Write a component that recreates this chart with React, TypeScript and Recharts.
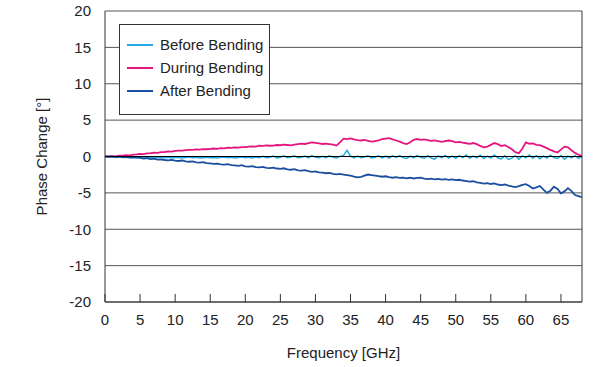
import { CartesianGrid, Legend, Line, LineChart, ReferenceLine, XAxis, YAxis } from "recharts";

const freqGHz = [
  0, 0.5, 1, 1.5, 2, 2.5, 3, 3.5, 4, 4.5, 5, 5.5, 6, 6.5, 7, 7.5, 8, 8.5, 9, 9.5,
  10, 10.5, 11, 11.5, 12, 12.5, 13, 13.5, 14, 14.5, 15, 15.5, 16, 16.5, 17, 17.5, 18, 18.5, 19, 19.5,
  20, 20.5, 21, 21.5, 22, 22.5, 23, 23.5, 24, 24.5, 25, 25.5, 26, 26.5, 27, 27.5, 28, 28.5, 29, 29.5,
  30, 30.5, 31, 31.5, 32, 32.5, 33, 33.5, 34, 34.5, 35, 35.5, 36, 36.5, 37, 37.5, 38, 38.5, 39, 39.5,
  40, 40.5, 41, 41.5, 42, 42.5, 43, 43.5, 44, 44.5, 45, 45.5, 46, 46.5, 47, 47.5, 48, 48.5, 49, 49.5,
  50, 50.5, 51, 51.5, 52, 52.5, 53, 53.5, 54, 54.5, 55, 55.5, 56, 56.5, 57, 57.5, 58, 58.5, 59, 59.5,
  60, 60.5, 61, 61.5, 62, 62.5, 63, 63.5, 64, 64.5, 65, 65.5, 66, 66.5, 67, 67.5, 68,
];

const beforeBending = [
  0.0, -0.08, -0.02, -0.12, -0.06, -0.15, -0.1, -0.18, -0.12, -0.2, -0.14, -0.1, -0.18, -0.12, -0.2, -0.15, -0.1, -0.18, -0.12, -0.22,
  -0.15, -0.1, -0.2, -0.14, -0.08, -0.18, -0.12, -0.22, -0.16, -0.1, -0.18, -0.14, -0.22, -0.12, -0.06, -0.16, -0.1, -0.2, -0.14, -0.08,
  -0.18, -0.12, -0.22, -0.08, -0.16, 0.02, -0.18, -0.1, 0.05, -0.2, -0.12, 0.08, -0.16, -0.06, 0.1, -0.18, -0.1, 0.06, -0.2, 0.12,
  -0.12, -0.18, 0.04, -0.16, 0.1, -0.1, -0.2, 0.02, 0.15, 0.85, 0.05, -0.18, 0.06, -0.16, -0.06, 0.1, -0.2, -0.1, 0.08, -0.18,
  0.04, -0.22, 0.1, -0.12, 0.12, -0.16, -0.28, 0.06, -0.18, 0.14, -0.12, -0.24, 0.1, -0.2, -0.35, 0.08, -0.18, 0.16, -0.22, 0.05,
  -0.26, 0.12, -0.16, 0.2, -0.24, 0.06, -0.2, 0.18, -0.28, 0.04, -0.22, 0.22, -0.18, -0.32, 0.1, -0.4, -0.22, 0.12, -0.36, 0.08,
  -0.2, 0.2, -0.26, 0.1, -0.3, 0.06, -0.22, 0.18, -0.14, -0.28, 0.12, -0.36, 0.05, -0.2, 0.1, -0.26, 0.02,
];

const duringBending = [
  0.0, 0.02, 0.05, 0.03, 0.1, 0.12, 0.18, 0.15, 0.25, 0.28, 0.35, 0.32, 0.42, 0.45, 0.52, 0.5, 0.6, 0.62, 0.7, 0.68,
  0.78, 0.82, 0.8, 0.88, 0.92, 0.9, 0.98, 0.95, 1.02, 1.0, 1.06, 1.1, 1.05, 1.14, 1.12, 1.2, 1.18, 1.25, 1.22, 1.3,
  1.28, 1.35, 1.4, 1.36, 1.48, 1.45, 1.52, 1.48, 1.5, 1.58, 1.55, 1.62, 1.58, 1.52, 1.62, 1.7, 1.78, 1.72, 1.85, 1.95,
  1.88, 1.8, 1.72, 1.78, 1.7, 1.62, 1.5, 1.95, 2.45, 2.4, 2.5, 2.35, 2.25, 2.2, 2.28, 2.15, 2.05, 2.12, 2.2, 2.38,
  2.45, 2.52, 2.35, 2.2, 2.05, 1.85, 1.7, 1.95, 2.3, 2.4, 2.28, 2.35, 2.25, 2.15, 2.22, 2.1, 2.0, 2.12, 2.2, 2.1,
  1.95, 2.02, 1.9, 1.82, 1.75, 1.85, 1.7, 1.45, 1.25, 1.35, 1.6, 1.85, 1.7, 1.45, 1.55, 1.3, 1.0, 0.6, 0.45, 1.1,
  1.95, 1.75, 1.8, 1.6, 1.55, 1.35, 1.15, 0.9, 0.7, 0.55, 0.95, 1.35, 1.25, 0.85, 0.5, 0.25, 0.05,
];

const afterBending = [
  0.0, -0.02, 0.02, -0.05, -0.03, -0.08, -0.05, -0.12, -0.15, -0.1, -0.2, -0.28, -0.22, -0.35, -0.3, -0.42, -0.4, -0.48, -0.52, -0.46,
  -0.58, -0.62, -0.55, -0.68, -0.72, -0.66, -0.8, -0.85, -0.78, -0.92, -0.95, -1.02, -0.98, -1.08, -1.12, -1.05, -1.18, -1.22, -1.28, -1.2,
  -1.35, -1.4, -1.32, -1.45, -1.5, -1.42, -1.55, -1.6, -1.52, -1.65, -1.7, -1.62, -1.78, -1.82, -1.75, -1.9, -1.95, -1.88, -2.02, -2.1,
  -2.05, -2.18, -2.22, -2.3, -2.25, -2.38, -2.45, -2.4, -2.48, -2.55, -2.62, -2.75, -2.88, -2.8, -2.62, -2.48, -2.55, -2.62, -2.7, -2.78,
  -2.72, -2.85, -2.92, -2.85, -2.95, -2.9, -3.0, -2.92, -3.02, -2.95, -2.9, -3.05, -3.12, -3.05, -3.15, -3.08, -3.18, -3.12, -3.22, -3.15,
  -3.25, -3.2, -3.3, -3.38, -3.45, -3.4, -3.55, -3.62, -3.72, -3.65, -3.78, -3.7, -3.85, -3.92, -3.85, -4.0, -4.12, -4.2, -4.08, -3.9,
  -3.8, -4.05, -4.4, -4.25, -4.05, -4.55, -5.0, -4.7, -4.15, -4.45, -5.05, -4.8, -4.35, -4.75, -5.3, -5.45, -5.6,
];

const xTicks = [0, 5, 10, 15, 20, 25, 30, 35, 40, 45, 50, 55, 60, 65];
const yTicks = [-20, -15, -10, -5, 0, 5, 10, 15, 20];

const seriesInfo = [
  { key: "before", name: "Before Bending", color: "#25a9e2" },
  { key: "during", name: "During Bending", color: "#e5157f" },
  { key: "after", name: "After Bending", color: "#1a4f9f" },
];

const chartData = freqGHz.map((f, i) => ({
  f,
  before: beforeBending[i],
  during: duringBending[i],
  after: afterBending[i],
}));

function FreqTick({ x, y, payload }: { x?: number; y?: number; payload?: { value: number } }) {
  if (x === undefined || y === undefined || !payload) return null;
  return (
    <g>
      <line x1={x} x2={x} y1={y - 8} y2={y} stroke="#333" />
      <text x={x} y={y + 23} textAnchor="middle" fontSize={15} fill="#222">
        {payload.value}
      </text>
    </g>
  );
}

function LegendBox() {
  return (
    <div
      style={{
        width: 149,
        height: 81,
        border: "1px solid #333",
        background: "#fff",
        boxSizing: "content-box",
        paddingTop: 8,
      }}
    >
      {seriesInfo.map((s) => (
        <div key={s.key} style={{ display: "flex", alignItems: "center", height: 23, fontSize: 15, color: "#222" }}>
          <span style={{ display: "inline-block", width: 26, height: 2, marginLeft: 7, marginRight: 7, background: s.color }} />
          <span>{s.name}</span>
        </div>
      ))}
    </div>
  );
}

export default function App() {
  return (
    <div style={{ position: "absolute", left: 0, top: 0, fontFamily: "'Liberation Sans', Arial, sans-serif" }}>
      <LineChart width={595} height={367} data={chartData} margin={{ top: 11, right: 13, bottom: 0, left: 0 }}>
        <CartesianGrid horizontal vertical={false} stroke="#555" strokeWidth={1} />
        <XAxis
          dataKey="f"
          type="number"
          domain={[0, 68]}
          ticks={xTicks}
          allowDataOverflow
          height={65}
          tickSize={0}
          tickMargin={0}
          tick={<FreqTick />}
          tickLine={false}
          axisLine={{ stroke: "#333" }}
          label={{ value: "Frequency [GHz]", position: "insideBottom", offset: 9, fontSize: 15, fill: "#222" }}
        />
        <YAxis
          type="number"
          domain={[-20, 20]}
          ticks={yTicks}
          width={105}
          tickSize={0}
          tickMargin={14}
          tickLine={false}
          axisLine={{ stroke: "#333" }}
          tick={{ fontSize: 15, fill: "#222" }}
          label={{
            value: "Phase Change [°]",
            angle: -90,
            position: "insideLeft",
            offset: 42,
            fontSize: 15,
            fill: "#222",
            style: { textAnchor: "middle" },
          }}
        />
        <ReferenceLine x={68} stroke="#333" />
        <Legend
          layout="vertical"
          align="center"
          verticalAlign="middle"
          content={<LegendBox />}
          wrapperStyle={{ left: 119, top: 24, width: "auto", height: "auto" }}
        />
        {seriesInfo.map((s) => (
          <Line
            key={s.key}
            type="linear"
            dataKey={s.key}
            name={s.name}
            stroke={s.color}
            strokeWidth={s.key === "before" ? 1.5 : 1.8}
            dot={false}
            isAnimationActive={false}
          />
        ))}
        <ReferenceLine y={0} stroke="#000" strokeWidth={1.2} />
      </LineChart>
    </div>
  );
}
